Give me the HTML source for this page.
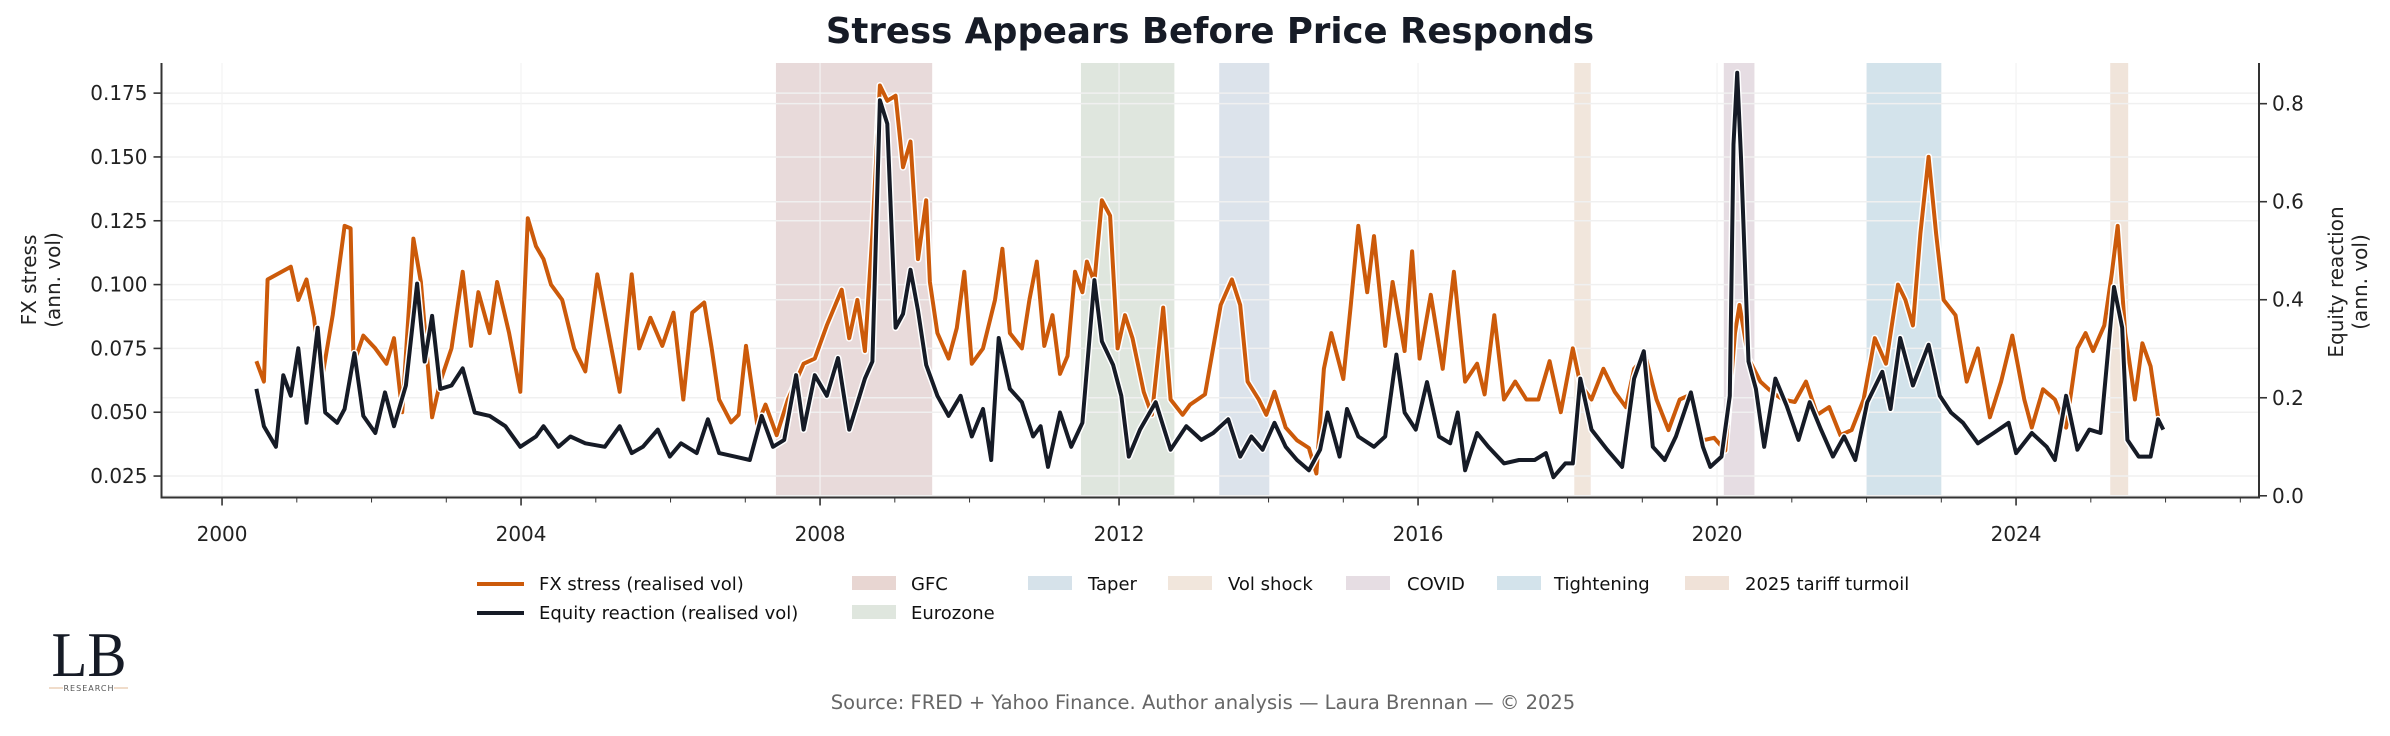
<!DOCTYPE html>
<html><head><meta charset="utf-8">
<style>
html,body{margin:0;padding:0;background:#fff;}
body{width:2390px;height:736px;overflow:hidden;position:relative;font-family:"DejaVu Sans","Liberation Sans",sans-serif;}
svg{position:absolute;left:0;top:0;}
</style></head>
<body>
<svg id="chart" width="2390" height="736" viewBox="0 0 2390 736" xmlns="http://www.w3.org/2000/svg">
<text x="1210" y="43" text-anchor="middle" font-size="35.5" font-weight="bold" fill="#161b26">Stress Appears Before Price Responds</text>
<g id="plot"></g>
<g font-size="18" fill="#111">
  <g><line x1="477" y1="584" x2="524" y2="584" stroke="#fff" stroke-width="7"/><line x1="477" y1="584" x2="524" y2="584" stroke="#cc5a0a" stroke-width="4"/><text x="539" y="590">FX stress (realised vol)</text></g>
  <g><line x1="477" y1="613" x2="524" y2="613" stroke="#fff" stroke-width="7"/><line x1="477" y1="613" x2="524" y2="613" stroke="#161b26" stroke-width="4"/><text x="539" y="619">Equity reaction (realised vol)</text></g>
  <g><rect x="852" y="576" width="44" height="14" fill="#e8d6d2"/><text x="911" y="590">GFC</text></g>
  <g><rect x="852" y="605" width="44" height="14" fill="#dfe6de"/><text x="911" y="619">Eurozone</text></g>
  <g><rect x="1028" y="576" width="44" height="14" fill="#d6e2ea"/><text x="1088" y="590">Taper</text></g>
  <g><rect x="1168" y="576" width="44" height="14" fill="#f1e6dc"/><text x="1228" y="590">Vol shock</text></g>
  <g><rect x="1346" y="576" width="44" height="14" fill="#e6dde3"/><text x="1407" y="590">COVID</text></g>
  <g><rect x="1497" y="576" width="44" height="14" fill="#d3e3eb"/><text x="1554" y="590">Tightening</text></g>
  <g><rect x="1685" y="576" width="44" height="14" fill="#f0e2d8"/><text x="1745" y="590">2025 tariff turmoil</text></g>
</g>
<g>
  <text x="89" y="676" text-anchor="middle" font-family="'Liberation Serif',serif" font-size="64" fill="#161b26" textLength="75" lengthAdjust="spacingAndGlyphs">LB</text>
  <line x1="49" y1="688" x2="63" y2="688" stroke="#e0b896" stroke-width="1"/>
  <line x1="114" y1="688" x2="128" y2="688" stroke="#e0b896" stroke-width="1"/>
  <text x="89" y="691" text-anchor="middle" font-size="8" fill="#555" letter-spacing="1">RESEARCH</text>
</g>
<text x="1203" y="709" text-anchor="middle" font-size="19.5" fill="#666">Source: FRED + Yahoo Finance. Author analysis — Laura Brennan — © 2025</text>
</svg>
<script>
const fxDates=[2000.46,2000.56,2000.61,2000.92,2001.02,2001.13,2001.23,2001.33,2001.48,2001.64,2001.72,2001.76,2001.89,2002.05,2002.20,2002.30,2002.41,2002.56,2002.66,2002.81,2002.92,2003.07,2003.22,2003.33,2003.43,2003.58,2003.68,2003.84,2003.99,2004.09,2004.20,2004.30,2004.40,2004.55,2004.71,2004.86,2005.02,2005.17,2005.32,2005.48,2005.58,2005.73,2005.89,2006.04,2006.17,2006.29,2006.45,2006.55,2006.65,2006.81,2006.91,2007.01,2007.16,2007.27,2007.42,2007.57,2007.78,2007.93,2008.09,2008.29,2008.39,2008.50,2008.60,2008.70,2008.80,2008.90,2009.01,2009.11,2009.21,2009.31,2009.42,2009.47,2009.57,2009.72,2009.83,2009.93,2010.03,2010.18,2010.34,2010.44,2010.54,2010.70,2010.80,2010.90,2011.00,2011.11,2011.21,2011.31,2011.41,2011.51,2011.57,2011.67,2011.77,2011.88,2011.98,2012.08,2012.18,2012.33,2012.44,2012.59,2012.69,2012.85,2012.95,2013.15,2013.36,2013.51,2013.62,2013.72,2013.87,2013.97,2014.08,2014.23,2014.38,2014.54,2014.64,2014.74,2014.84,2015.00,2015.10,2015.20,2015.32,2015.41,2015.56,2015.66,2015.82,2015.92,2016.02,2016.17,2016.33,2016.48,2016.63,2016.79,2016.89,2017.02,2017.15,2017.30,2017.45,2017.61,2017.76,2017.91,2018.07,2018.17,2018.32,2018.48,2018.63,2018.78,2018.89,2019.04,2019.19,2019.35,2019.50,2019.65,2019.81,2019.96,2020.11,2020.24,2020.30,2020.42,2020.58,2020.73,2020.88,2021.04,2021.19,2021.34,2021.50,2021.65,2021.80,2021.96,2022.11,2022.26,2022.42,2022.52,2022.62,2022.72,2022.83,2022.93,2023.03,2023.19,2023.34,2023.49,2023.65,2023.80,2023.95,2024.11,2024.21,2024.36,2024.52,2024.67,2024.82,2024.93,2025.03,2025.18,2025.28,2025.36,2025.46,2025.59,2025.69,2025.80,2025.90,2025.97];
const fxValues=[0.070,0.062,0.102,0.107,0.094,0.102,0.087,0.062,0.088,0.123,0.122,0.069,0.080,0.075,0.069,0.079,0.050,0.118,0.101,0.048,0.062,0.075,0.105,0.076,0.097,0.081,0.101,0.081,0.058,0.126,0.115,0.110,0.100,0.094,0.075,0.066,0.104,0.081,0.058,0.104,0.075,0.087,0.076,0.089,0.055,0.089,0.093,0.075,0.055,0.046,0.049,0.076,0.045,0.053,0.041,0.055,0.069,0.071,0.084,0.098,0.079,0.094,0.074,0.120,0.178,0.172,0.174,0.146,0.156,0.110,0.133,0.101,0.081,0.071,0.083,0.105,0.069,0.075,0.094,0.114,0.081,0.075,0.094,0.109,0.076,0.088,0.065,0.072,0.105,0.097,0.109,0.101,0.133,0.127,0.075,0.088,0.079,0.058,0.049,0.091,0.055,0.049,0.053,0.057,0.092,0.102,0.092,0.062,0.055,0.049,0.058,0.044,0.039,0.036,0.026,0.067,0.081,0.063,0.092,0.123,0.097,0.119,0.076,0.101,0.074,0.113,0.071,0.096,0.067,0.105,0.062,0.069,0.057,0.088,0.055,0.062,0.055,0.055,0.070,0.050,0.075,0.061,0.055,0.067,0.058,0.052,0.067,0.072,0.055,0.043,0.055,0.057,0.039,0.040,0.035,0.081,0.092,0.071,0.062,0.058,0.055,0.054,0.062,0.049,0.052,0.041,0.043,0.055,0.079,0.069,0.100,0.094,0.084,0.120,0.150,0.120,0.094,0.088,0.062,0.075,0.048,0.062,0.080,0.055,0.044,0.059,0.055,0.044,0.075,0.081,0.074,0.084,0.104,0.123,0.081,0.055,0.077,0.068,0.048,0.044];
const eqDates=[2000.46,2000.56,2000.72,2000.82,2000.92,2001.02,2001.13,2001.28,2001.38,2001.54,2001.64,2001.77,2001.89,2002.05,2002.18,2002.30,2002.46,2002.61,2002.71,2002.81,2002.92,2003.07,2003.22,2003.38,2003.58,2003.79,2003.99,2004.20,2004.30,2004.50,2004.66,2004.86,2005.12,2005.32,2005.48,2005.63,2005.83,2005.99,2006.14,2006.35,2006.50,2006.65,2006.86,2007.06,2007.22,2007.37,2007.52,2007.68,2007.78,2007.93,2008.09,2008.24,2008.39,2008.60,2008.70,2008.80,2008.90,2009.01,2009.11,2009.21,2009.31,2009.42,2009.57,2009.72,2009.88,2010.03,2010.18,2010.29,2010.39,2010.54,2010.70,2010.85,2010.95,2011.05,2011.21,2011.36,2011.51,2011.67,2011.77,2011.92,2012.03,2012.13,2012.28,2012.49,2012.69,2012.90,2012.95,2013.10,2013.26,2013.46,2013.62,2013.77,2013.92,2014.08,2014.23,2014.38,2014.54,2014.69,2014.79,2014.95,2015.05,2015.20,2015.41,2015.56,2015.71,2015.82,2015.97,2016.12,2016.28,2016.43,2016.53,2016.63,2016.79,2016.94,2017.15,2017.35,2017.56,2017.71,2017.81,2017.97,2018.07,2018.17,2018.32,2018.53,2018.73,2018.89,2019.02,2019.14,2019.30,2019.45,2019.65,2019.81,2019.91,2020.06,2020.17,2020.22,2020.27,2020.32,2020.42,2020.52,2020.63,2020.78,2020.93,2021.09,2021.24,2021.39,2021.55,2021.70,2021.85,2022.01,2022.21,2022.32,2022.45,2022.62,2022.83,2022.98,2023.13,2023.29,2023.49,2023.70,2023.90,2024.00,2024.21,2024.41,2024.52,2024.67,2024.82,2024.98,2025.13,2025.31,2025.42,2025.49,2025.64,2025.80,2025.90,2025.97];
const eqValues=[0.218,0.142,0.100,0.246,0.204,0.301,0.149,0.343,0.170,0.149,0.177,0.291,0.163,0.128,0.211,0.142,0.225,0.433,0.274,0.367,0.218,0.225,0.260,0.170,0.163,0.142,0.100,0.121,0.142,0.100,0.121,0.107,0.100,0.142,0.087,0.100,0.135,0.080,0.107,0.087,0.156,0.087,0.080,0.073,0.163,0.100,0.114,0.246,0.135,0.246,0.204,0.281,0.135,0.239,0.274,0.807,0.759,0.343,0.371,0.461,0.378,0.267,0.204,0.163,0.204,0.121,0.177,0.073,0.322,0.218,0.191,0.121,0.142,0.059,0.170,0.100,0.149,0.440,0.315,0.267,0.204,0.080,0.135,0.191,0.094,0.142,0.135,0.114,0.128,0.156,0.080,0.121,0.094,0.149,0.100,0.073,0.052,0.094,0.170,0.080,0.177,0.121,0.100,0.121,0.288,0.170,0.135,0.232,0.121,0.107,0.170,0.052,0.128,0.100,0.066,0.073,0.073,0.087,0.038,0.066,0.066,0.239,0.135,0.094,0.059,0.239,0.295,0.100,0.073,0.121,0.211,0.100,0.059,0.080,0.204,0.717,0.863,0.690,0.274,0.218,0.100,0.239,0.184,0.114,0.191,0.135,0.080,0.121,0.073,0.191,0.253,0.177,0.322,0.225,0.308,0.204,0.170,0.149,0.107,0.128,0.149,0.087,0.128,0.100,0.073,0.204,0.094,0.135,0.128,0.426,0.343,0.114,0.080,0.080,0.156,0.135];
const eventNames=["GFC","Eurozone","Taper","Vol shock","COVID","Tightening","2025 tariff turmoil"];
const eventStarts=[2007.41,2011.49,2013.34,2018.09,2020.09,2022.0,2025.26];
const eventEnds=[2009.5,2012.74,2014.01,2018.31,2020.5,2023.0,2025.5];
const eventColors=["#e8dada","#dfe6de","#dce3eb","#f1e6dc","#e6dde3","#d3e3eb","#f0e4da"];
const xTicks=[2000,2004,2008,2012,2016,2020,2024];
const leftTicks=[0.025,0.050,0.075,0.100,0.125,0.150,0.175];
const rightTicks=[0.0,0.2,0.4,0.6,0.8];

const NS="http://www.w3.org/2000/svg";
const L=161.5,R=2259,T=63,B=497.5;
const xMin=1999.19,xMax=2027.25,lMin=0.0166,lMax=0.1868,rMin=-0.0035,rMax=0.883;
const X=v=>L+(v-xMin)/(xMax-xMin)*(R-L);
const YL=v=>B-(v-lMin)/(lMax-lMin)*(B-T);
const YR=v=>B-(v-rMin)/(rMax-rMin)*(B-T);
const plot=document.getElementById('plot');
function mk(tag,attrs,parent){const e=document.createElementNS(NS,tag);for(const k in attrs)e.setAttribute(k,attrs[k]);(parent||plot).appendChild(e);return e;}

eventNames.forEach((n,i)=>{
  const r=mk('rect',{x:X(eventStarts[i]),y:T,width:X(eventEnds[i])-X(eventStarts[i]),height:B-T,fill:eventColors[i]});
  
  
});
leftTicks.forEach(v=>{const g=mk('line',{x1:L,x2:R,y1:YL(v),y2:YL(v),stroke:'#f0f0f0','stroke-width':1.5});
  
  });
rightTicks.forEach(v=>{const g=mk('line',{x1:L,x2:R,y1:YR(v),y2:YR(v),stroke:'#f0f0f0','stroke-width':1.5});
  
  });
xTicks.forEach(v=>{const g=mk('line',{x1:X(v),x2:X(v),y1:T,y2:B,stroke:'#f3f3f3','stroke-width':1.2});
  
  });

function series(dates,vals,yf,color,name){
  const d=dates.map((t,i)=>(i?'L':'M')+X(t).toFixed(1)+','+yf(vals[i]).toFixed(1)).join('');
  const h=mk('path',{d:d,fill:'none',stroke:'#fff','stroke-width':7,'stroke-linejoin':'round'});
  
  
  const p=mk('path',{d:d,fill:'none',stroke:color,'stroke-width':4,'stroke-linejoin':'round'});
  
  
}
series(fxDates,fxValues,YL,'#cc5a0a','fx-stress-line');
series(eqDates,eqValues,YR,'#161b26','equity-reaction-line');

const ax=mk('path',{d:`M${L},${T}V${B}H${R}V${T}`,fill:'none',stroke:'#333','stroke-width':2});


for(let y=2000;y<=2027;y++){
  const major=xTicks.includes(y);
  const t=mk('line',{x1:X(y),x2:X(y),y1:B,y2:B+(major?8:5),stroke:'#333','stroke-width':major?1.6:1});
  
  
}
xTicks.forEach(v=>{const t=mk('text',{x:X(v),y:541,'text-anchor':'middle','font-size':20,fill:'#222'});t.textContent=v;
  
  });
leftTicks.forEach(v=>{
  mk('line',{x1:L-8,x2:L,y1:YL(v),y2:YL(v),stroke:'#333','stroke-width':1.6});
  const t=mk('text',{x:L-14,y:YL(v)+7,'text-anchor':'end','font-size':20,fill:'#222'});t.textContent=v.toFixed(3);
  
  });
rightTicks.forEach(v=>{
  mk('line',{x1:R,x2:R+8,y1:YR(v),y2:YR(v),stroke:'#333','stroke-width':1.6});
  const t=mk('text',{x:R+13,y:YR(v)+7,'text-anchor':'start','font-size':20,fill:'#222'});t.textContent=v.toFixed(1);
  
  });
const yl=mk('text',{transform:'translate(40,280) rotate(-90)','text-anchor':'middle','font-size':20,fill:'#222'});


yl.innerHTML='<tspan x="0" dy="-4">FX stress</tspan><tspan x="0" dy="24">(ann. vol)</tspan>';
const yr=mk('text',{transform:'translate(2347,282) rotate(-90)','text-anchor':'middle','font-size':20,fill:'#222'});


yr.innerHTML='<tspan x="0" dy="-4">Equity reaction</tspan><tspan x="0" dy="24">(ann. vol)</tspan>';
</script>
</body></html>
